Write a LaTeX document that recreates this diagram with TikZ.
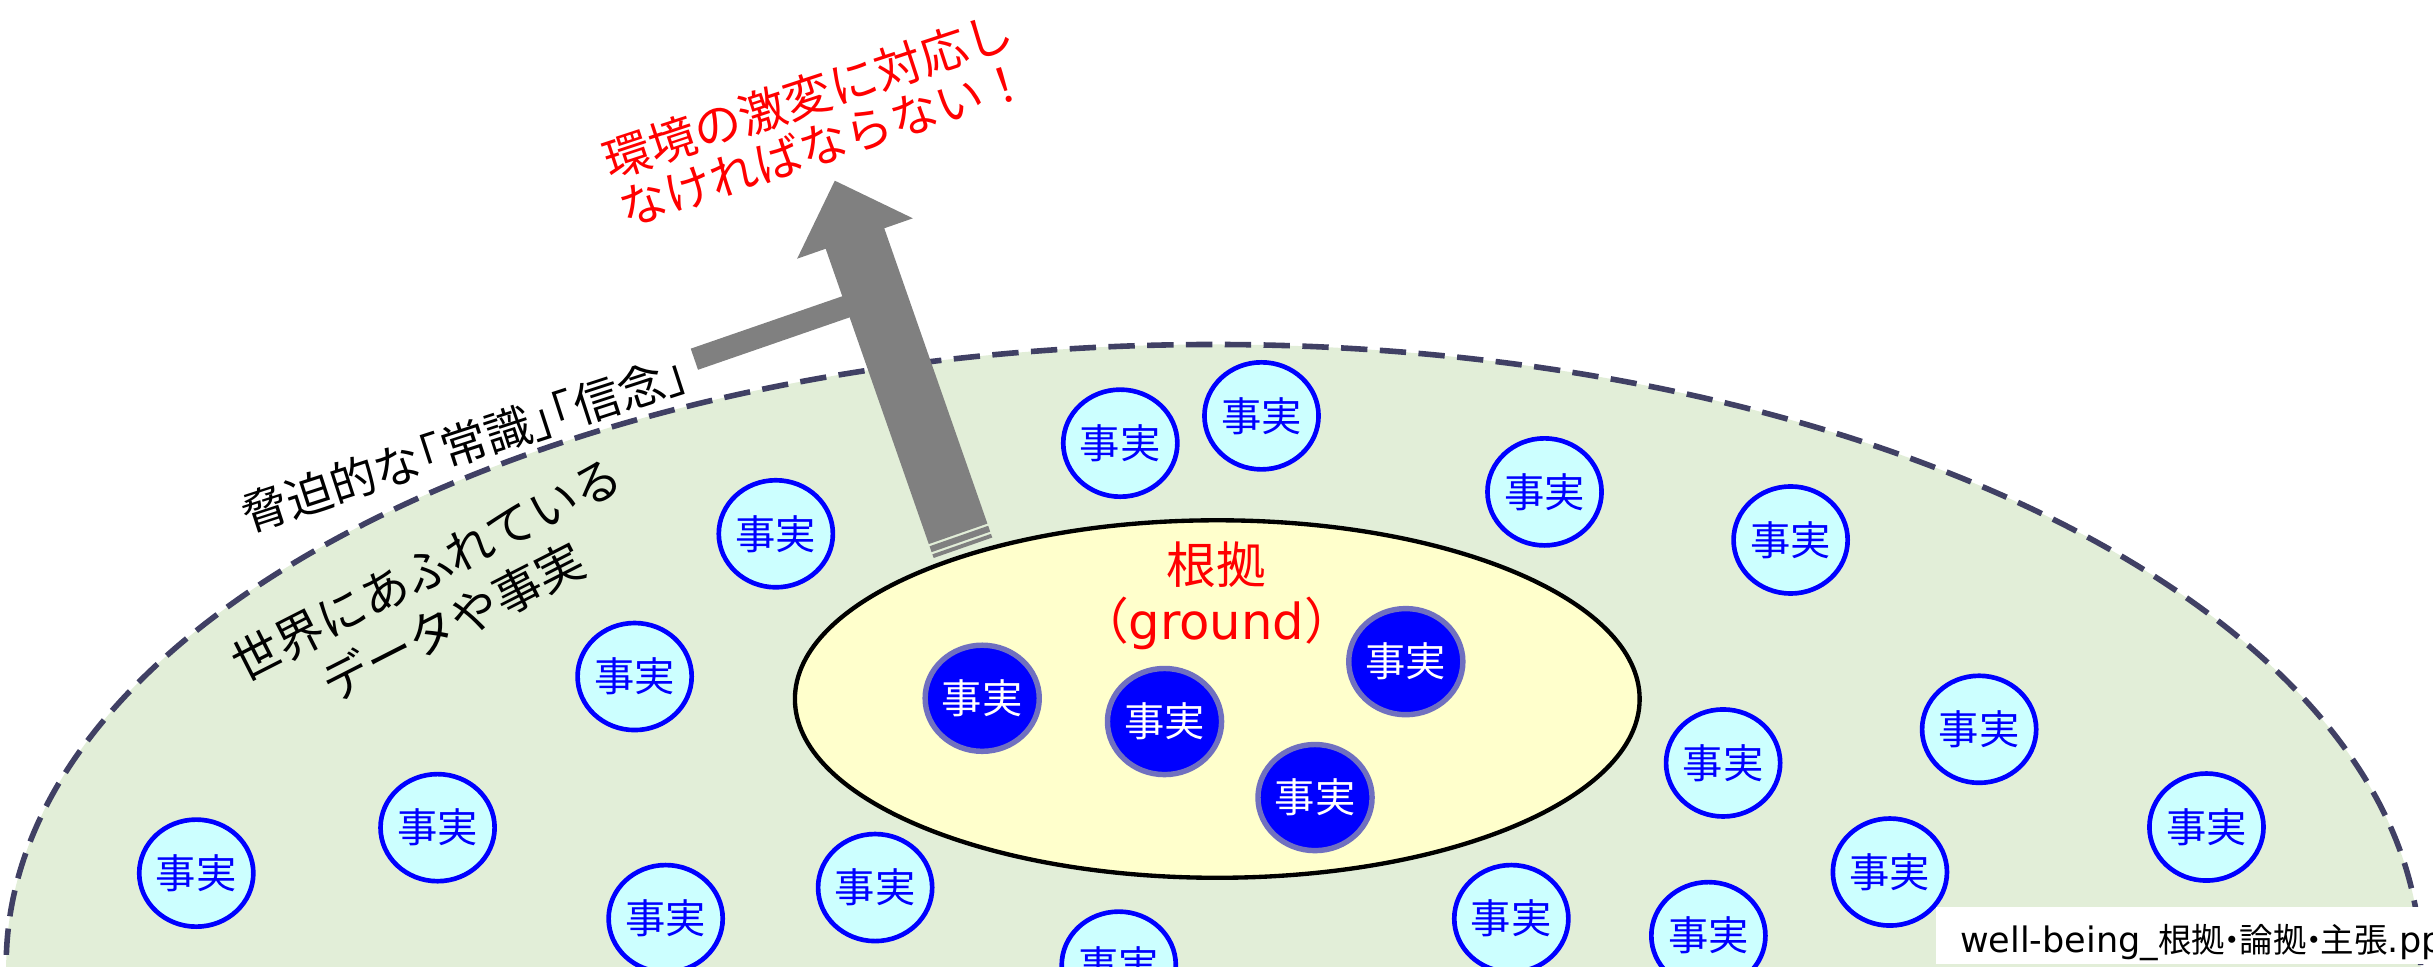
\documentclass[tikz,border=0pt]{standalone}
\usepackage{fontspec}
\setmainfont{Noto Sans CJK JP}
\newfontfamily\latinfont{DejaVu Sans}
\usetikzlibrary{shapes.geometric}
\definecolor{bgreen}{HTML}{E2EED8}
\definecolor{dashc}{HTML}{404064}
\definecolor{lcyan}{HTML}{CCFFFF}
\definecolor{gborder}{HTML}{7070C0}
\definecolor{lyellow}{HTML}{FFFFCC}
\definecolor{agray}{HTML}{808080}
\newcommand{\lbr}{\kern-0.5em「}
\newcommand{\rbr}{」\kern-0.5em}
\newcommand{\ndot}{\kern-0.285em・\kern-0.285em}
\begin{document}
\begin{tikzpicture}[x=0.5pt,y=-0.5pt,
  fact/.style={ellipse, draw=blue, line width=1.5pt, fill=lcyan, text=blue,
    minimum width=33.5pt, minimum height=34.5pt, inner sep=0pt,
    font=\fontsize{13pt}{14pt}\selectfont},
  gfact/.style={ellipse, draw=gborder, line width=1.75pt, fill=blue, text=white,
    minimum width=33.2pt, minimum height=34.2pt, inner sep=0pt,
    font=\fontsize{13pt}{14pt}\selectfont},
  label/.style={inner sep=0pt, align=center},
  bar/.style={agray, line width=7.2pt, line cap=butt}
  ]
\useasboundingbox (0,0) rectangle (1568,622.6);
\clip (0,0) rectangle (1568,622.6);

% world ellipse
\node[ellipse, draw=dashc, line width=1.8pt, dash pattern=on 8.5pt off 4pt,
      fill=bgreen, minimum width=778pt, minimum height=400pt, inner sep=0pt]
      (world) at (782,622) {};

% ground ellipse
\node[ellipse, draw=black, line width=1.4pt, fill=lyellow,
      minimum width=272.2pt, minimum height=115.2pt, inner sep=0pt]
      (groundarea) at (784.5,450.5) {};

% arrow
\begin{scope}[shift={(620.6,353)}, rotate=19.25]
  \coordinate (tail) at (0,0);
  \coordinate (joint) at (0,-171.4);
  \coordinate (tip) at (0,-250.6);
  \fill[agray] (-20,-9.5) -- (20,-9.5) -- (20,-211.1) -- (39.5,-211.1)
     -- (tip) -- (-39.5,-211.1) -- (-20,-211.1) -- cycle;
  \fill[agray] (-20,-8) rectangle (20,-4);
  \fill[agray] (-20,-2.5) rectangle (20,0);
\end{scope}

% texts
\node[label, rotate=18, font=\fontsize{15pt}{17pt}\selectfont]
  (beliefs) at (299,286) {脅迫的な\lbr 常識\rbr\lbr 信念\rbr};
\coordinate (bstart) at (447.5,231.5);
\draw[bar] (bstart) -- (joint);

\node[label, rotate=18.2, text=red, font=\fontsize{15.3pt}{16.4pt}\selectfont]
  (alert) at (525.7,77) {環境の激変に対応し\\なければならない！};

\node[label, rotate=27, font=\fontsize{15.4pt}{19pt}\selectfont]
  (worldtext) at (283.5,384) {世界にあふれている\\データや事実};

\node[label, text=red, font=\fontsize{16pt}{17pt}\selectfont]
  (gtitle) at (784,364) {根拠};
\node[label, text=red, font=\fontsize{16pt}{17pt}\selectfont]
  (gsub) at (784,402) {（{\latinfont ground}）};

% dark facts
\node[gfact] (g1) at (633,450) {事実};
\node[gfact] (g2) at (750.5,465) {事実};
\node[gfact] (g3) at (906,426.4) {事実};
\node[gfact] (g4) at (847.5,514) {事実};

% light facts
\node[fact] (f1) at (722,285.6) {事実};
\node[fact] (f2) at (813,268) {事実};
\node[fact] (f3) at (995.4,317) {事実};
\node[fact] (f4) at (1154,348) {事実};
\node[fact] (f5) at (500,344) {事実};
\node[fact] (f6) at (409,436) {事実};
\node[fact] (f7) at (282,533.4) {事実};
\node[fact] (f8) at (126.5,562.7) {事実};
\node[fact] (f9) at (429,592) {事実};
\node[fact] (f10) at (564,572) {事実};
\node[fact] (f11) at (721,622) {事実};
\node[fact] (f12) at (974,592) {事実};
\node[fact] (f13) at (1101,603) {事実};
\node[fact] (f14) at (1110.5,491.7) {事実};
\node[fact] (f15) at (1218,562) {事実};
\node[fact] (f16) at (1275.5,470) {事実};
\node[fact] (f17) at (1422,533) {事実};

% footer
\node[fill=white, anchor=north west, minimum width=180pt, minimum height=18.3pt,
      inner sep=0pt] (fbox) at (1247,584) {};
\node[inner sep=0pt, anchor=base west, font=\fontsize{10.8pt}{13pt}\selectfont]
  (ftext) at (1262.8,614)
  {{\latinfont\fontsize{11.3pt}{13pt}\selectfont well-being\_}根拠\ndot 論拠\ndot 主張{\latinfont\fontsize{11.3pt}{13pt}\selectfont .pp}};
\end{tikzpicture}
\end{document}
